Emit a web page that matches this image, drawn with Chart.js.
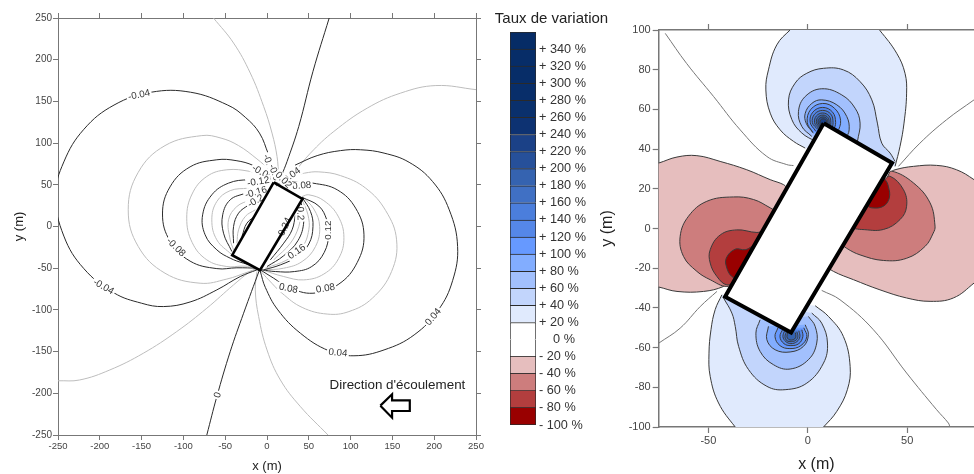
<!DOCTYPE html>
<html><head><meta charset="utf-8">
<style>html,body{margin:0;padding:0;background:#fff;width:974px;height:474px;overflow:hidden}canvas{position:absolute;top:0;filter:blur(0.4px)}</style>
<script src="https://cdn.jsdelivr.net/npm/chart.js@4"></script>
</head><body>
<canvas id="cL" width="490" height="474" style="left:0"></canvas>
<canvas id="cR" width="378" height="474" style="left:596px"></canvas>
<canvas id="cM" width="123" height="474" style="left:490px"></canvas>
<script>
// ---------- left panel data ----------
const leftTicks=[-250,-200,-150,-100,-50,0,50,100,150,200,250];
const zeroTop=[[74.4,250],[55,186],[38,120],[24,78],[17.6,61.6]];
const zeroBot=[[-72,-250],[-60,-204],[-44,-150],[-28,-104],[-9,-52]];
const m02=[[-64,250],[-40,220],[-20,184],[-4,144],[6,112],[12,84],[14,60]];
const p02a=[[251,164],[202,169],[160,160],[120,142],[80,114],[52,88],[32,64],[24,54]];
const m02b=[[-250,-185],[-224,-184],[-188,-172],[-148,-152],[-108,-126],[-72,-98],[-40,-70],[-20,-54],[-10,-50]];
const p02b=[[73,-250],[40,-216],[16,-184],[0,-148],[-10,-108],[-14,-76],[-12,-54]];
const m04=[[2,86],[-9,112],[-26,131],[-47,145.6],[-91.4,161],[-138.6,161],[-183,145.6],[-219,116.6],[-243,77.5],[-253,37],[-243,-11.5],[-219,-50.6],[-183,-79.6],[-150,-92],[-124,-96],[-92,-90.5],[-60,-76],[-32,-60],[-12,-52]];
const p04=[[33.6,73.6],[60,85],[88,91],[112,92],[140,88],[170,77],[198,54],[218,20],[228,-24],[222,-65],[205,-100],[176,-130],[140,-148],[104,-155],[74,-149],[40,-128],[13,-100],[-2,-73],[-8,-54]];
const m06=[[3,68],[-12,81],[-34,97],[-55,106],[-78,109],[-122,97],[-154,65],[-166,20],[-154,-24],[-122,-56],[-80,-68],[-48,-63],[-24,-55],[-10,-50]];
const p06=[[30,60],[45,64],[62,65.5],[88,61],[118,46],[142,19],[155,-16],[149,-54],[126,-86],[98,-102],[72,-105],[42,-97],[18,-80],[2,-64],[-8,-53]];
const m08=[[2,62],[-16,73],[-37,79],[-60,80],[-92,71.5],[-116,47.5],[-125,15],[-116,-17.5],[-92,-41.5],[-60,-50.5],[-36,-49.5],[-10,-50]];
const p08=[[30,54],[55,52],[84,44],[106,22],[116,-10],[108,-43],[86,-69],[55,-80],[26,-73],[8,-62],[-8,-52]];
const m10=[[1,60],[-20,66],[-48,68],[-72,60],[-89.6,39],[-96,10],[-89.6,-19],[-72,-40],[-48,-48],[-30,-47.5],[-12,-48]];
const p10=[[42,36],[50,38],[68,31],[85,12.5],[92,-13],[85.6,-38.5],[68,-57],[44,-64],[20,-60],[-6,-52]];
const m12=[[0,54],[-22,56],[-46,52],[-66,38],[-77,14],[-74,-10],[-60,-28],[-44,-38],[-28,-44],[-12,-48]];
const p12=[[42,35],[62,24.5],[71.5,8],[74,-8],[68.5,-31],[53.5,-48],[33,-54],[10,-54],[-6,-52]];
const m14=[[-22,46],[-44,43],[-60,30],[-66,8],[-60,-16],[-42,-34]];
const p14=[[42,36],[56,21],[63,0],[58,-24],[42,-42],[20,-50],[-4,-52]];
const m16=[[-26,40],[-44,32],[-53,14],[-52,-8],[-42,-30]];
const p16=[[42,35],[52,18],[55,0],[50,-21],[36,-36],[16,-46],[-4,-52]];
const m18=[[-20,32],[-36,24],[-46,8],[-44,-16],[-40,-28]];
const p18=[[42,32],[49,14],[50,-4],[42,-25],[24,-40],[-2,-50]];
const m20=[[-22,26],[-34,16],[-40,0],[-40,-20]];
const p20=[[41,28],[44,6],[37,-17],[20,-35],[0,-48]];
const m22=[[-14,20],[-26,12],[-34,-4],[-36,-20]];
const p22=[[40,16],[38,0],[28,-20],[8,-40]];
const m24=[[-12,14],[-24,4],[-30,-12]];
const p24=[[34,14],[30,-4],[20,-20],[4,-40]];
const blackLines=[zeroTop,zeroBot,m04,p04,m08,p08,m12,p12,m16,p16,m20,p20,m24,p24];
const greyLines=[m02,p02a,m02b,p02b,m06,p06,m10,p10,m14,p14,m18,p18,m22,p22];
const basin=[[8,53],[42.4,33],[-8.4,-52.4],[-41.6,-34.4],[8,53]];
const arrow=[[135.6,-214.8],[149.6,-201.2],[149.6,-208.4],[170.8,-208.4],[170.8,-221.2],[149.6,-221.2],[149.6,-229.2],[135.6,-214.8]];
const labelText=["-0.04","-0.04","-0.08","0","0.08","0.08","0.04","0.04","0.12","0.16","0.2","0.24","0.04","0.08","-0.04","-0.08","-0.12","-0.16","-0.2","-0.02","0.02"];
const labelX=[-153,-195.6,-109,-59,25.6,70,84.8,198.8,73.6,35.6,39.6,21.6,29.6,41.6,2.8,-5.6,-10.4,-13.2,-13.6,9.6,19.6];
const labelY=[157.6,-72.4,-25,-202,-74.4,-74.4,-151.6,-108.4,-4.4,-30.4,15.6,-0.4,61.6,48.8,73.6,64.4,53.6,40.8,30.4,61.6,55.6];
const labelAngle=[-12,30,45,-72,12,-10,5,-50,-90,-35,88,-65,-35,-5,70,30,-10,-15,-30,70,45];

// ---------- legend data ----------
const legendLevels=[-100,-80,-60,-40,-20,0,20,40,60,80,100,120,140,160,180,200,220,240,260,280,300,320,340];
const legendColors=["#990000","#B33E3E","#CD7D7D","#E6BEBE","#FFFFFF","#FFFFFF","#E0EAFD","#C2D5FC","#A2C0FD","#82ADFF","#6699FF","#5587E8","#4B7EDC","#4070C4","#3563B0","#26509A","#1B4187","#0D3272","#0A306C","#082E6A","#072D68","#072D68","#062C66"];
const legendTitle='Taux de variation';

// ---------- right panel data ----------
const rightXTicks=[-50,0,50];
const rightYTicks=[-100,-80,-60,-40,-20,0,20,40,60,80,100];
const topB20=[[-1.3,40.5],[-7.2,43.9],[-13.9,49.7],[-18.9,58.1],[-21.1,69.8],[-19.8,79.9],[-15.6,92.5],[-8.9,100],[-2,106],[29,108],[36.3,99.7],[44.7,88.3],[48.9,78.2],[49.7,68.2],[48.4,53.1],[46.4,41.4],[43.9,31.3]];
const topB40=[[3.7,43.9],[-3,48.1],[-8,54.8],[-9.7,64.8],[-6.4,73.2],[-0.5,78.2],[7.9,80.7],[17.9,79.9],[26.3,74],[32.2,64.8],[35,53.1],[37.2,43],[41.4,38],[43.9,33.8]];
const topB60=[[2,46.4],[-3,51.4],[-4.7,59],[-1.3,66.5],[7,70.4],[17.1,67.3],[23.8,60.6],[26.3,53.1],[25,44]];
const topB80=[[2.8,48],[-0.8,53],[-1.3,58],[2,63],[7,64.8],[14.6,62.3],[19.6,56.4],[20.8,49.7],[19,45]];
const topB100=[[2.5,48.5],[-0.3,53.5],[1.5,60],[7.5,63],[13.5,60.5],[16.5,54.5],[15,48]];
const topB120=[[4,49],[1.2,53.5],[2.5,58.6],[7.5,61],[12.5,58.6],[14,53.4],[13,49.5]];
const topB140=[[5,50],[2.3,53.3],[3.4,57.6],[7.5,59.5],[11.6,57.6],[12.7,53.3],[12,50]];
const topB160=[[5.4,50.5],[3.4,53.3],[4.3,56.7],[7.5,58.2],[10.7,56.7],[11.6,53.3],[11,50.5]];
const topB180=[[5.9,51],[4.4,53.2],[5,55.9],[7.6,57.1],[10.1,55.9],[10.8,53.2],[10.5,51]];
const topB200=[[6.3,51.5],[5.2,53.3],[5.7,55.3],[7.7,56.2],[9.6,55.3],[10.1,53.3],[9.9,51.5]];
const topB220=[[6.8,52],[6.1,53.4],[6.5,54.7],[7.8,55.3],[9.1,54.7],[9.5,53.4],[9.3,52]];
const botB20=[[-43.2,-33.4],[-46.6,-40.9],[-48.7,-51],[-49.7,-62.8],[-49.1,-74.5],[-44.9,-87.9],[-36.5,-100],[-30,-107],[1,-107],[7.9,-100],[14.6,-92.1],[19.9,-81.2],[21.3,-69.5],[17.9,-54.4],[10.4,-44.3],[3.7,-38.9]];
const botB40=[[-42.4,-35],[-38.2,-42.6],[-36.5,-49.3],[-34.8,-59.4],[-29.8,-71.1],[-20.6,-79.5],[-11.4,-81.2],[-0.5,-77.9],[7.9,-67.8],[9.9,-57.7],[7,-47.7],[2,-42.6]];
const botB60=[[-24,-46],[-26.1,-52.7],[-24,-61.9],[-17.3,-68.6],[-8.9,-70.8],[0.3,-66.1],[4.5,-57.7],[3.7,-49.3],[0.3,-44.3]];
const botB80=[[-19.8,-49.3],[-20.6,-56],[-16.4,-61.1],[-8.9,-62.2],[-2.2,-59.4],[0.3,-53.5],[-1.3,-48.5]];
const botB100=[[-15,-50],[-16.5,-54.5],[-14,-59],[-9,-60.5],[-3.5,-59],[-0.5,-54.5],[-2,-50]];
const botB120=[[-12.5,-50.5],[-14,-54.5],[-12,-58],[-8.5,-59],[-4.5,-58],[-2.5,-54.5],[-3,-51]];
const botB140=[[-11.5,-51],[-12.5,-54.5],[-11,-57],[-8.5,-58],[-5.5,-57],[-4,-54.5],[-4.5,-51.5]];
const botB160=[[-10.5,-51.5],[-11.5,-54.5],[-10.5,-56.5],[-8.3,-57],[-6,-56.3],[-5,-54.5],[-5.5,-52]];
const botB180=[[-10,-52],[-10.5,-54.5],[-9.7,-55.8],[-8.2,-56.2],[-6.6,-55.6],[-6,-54.3],[-6.3,-52.5]];
const leftR20=[[-10,20],[-12.2,22.1],[-18.9,24.6],[-30.7,29.6],[-44.1,33.8],[-55.8,36.7],[-65.8,36],[-74.9,33],[-82,31],[-82,-28],[-74.9,-29.5],[-65.8,-31.7],[-52.4,-31.7],[-42.4,-29.2],[-36,-25]];
const rightR20=[[41,28],[43.9,29.6],[53.1,31.3],[64.8,31.8],[74.8,29.6],[83.6,24.6],[92,18],[92,-20],[83.6,-27.5],[73.2,-35],[61.5,-36.7],[49.7,-35],[36.3,-30.9],[23,-25.8],[12.9,-21.6],[8,-18]];
const leftR40=[[-15,8],[-18.9,10.4],[-27.3,14.6],[-37.4,15.9],[-50.8,13.7],[-60,6.2],[-64.2,-3.9],[-62.5,-14.1],[-55.8,-21.6],[-49.1,-25.8],[-40.7,-29.2],[-36,-26]];
const rightR40=[[40,26],[42.2,28.9],[53.1,23],[61.5,12.9],[64,1.2],[63.1,-2.3],[59,-9],[49.7,-15],[38,-16.1],[26.3,-13.3],[19.6,-10],[16,-7]];
const leftR60=[[-22,-1],[-25.6,-2],[-35.7,-0.7],[-44,-3.2],[-49.1,-10.7],[-49.1,-17.4],[-45.7,-24.2],[-40.7,-28.4],[-36,-26]];
const rightR60=[[38,24],[41.4,26.3],[48.1,19.6],[49.7,11.2],[46.4,4.5],[38,-0.5],[27.1,-0.5],[23,0]];
const leftR80=[[-28,-9],[-31.5,-10.7],[-36.5,-10.4],[-41,-14.9],[-40.7,-20],[-38.2,-24.2],[-34,-26]];
const rightR80=[[36,26],[38.9,24.6],[40.5,21.3],[41,15.4],[38,11.2],[32.2,10.4],[29,12]];
const zeroTL=[[-71.7,98.3],[-61,83.2],[-47.4,66.5],[-34,49.7],[-20.6,36.3],[-10.6,32.2],[-7.2,31.7]];
const zeroTR=[[83.6,64.8],[69.8,54.8],[56.4,43],[45.6,31.3]];
const zeroBL=[[-74.9,-57.7],[-64.2,-50.2],[-54.1,-39.3],[-45.7,-31.7]];
const zeroBR=[[7,-31.2],[16.2,-35.9],[33,-51],[49.7,-72.8],[64.8,-91.3],[70.7,-98],[71.5,-100]];
const filledRegions=[
 [topB20,"#E0EAFD"],[botB20,"#E0EAFD"],[leftR20,"#E6BEBE"],[rightR20,"#E6BEBE"],
 [leftR40,"#CD7D7D"],[rightR40,"#CD7D7D"],[leftR60,"#B33E3E"],[rightR60,"#B33E3E"],[leftR80,"#990000"],[rightR80,"#990000"],
 [topB40,"#C2D5FC"],[botB40,"#C2D5FC"],[topB60,"#A2C0FD"],[botB60,"#A2C0FD"],[topB80,"#82ADFF"],[botB80,"#82ADFF"],
 [topB100,"#6699FF"],[botB100,"#6699FF"],[topB120,"#5587E8"],[botB120,"#5587E8"],[topB140,"#4B7EDC"],[botB140,"#4B7EDC"],
 [topB160,"#4070C4"],[botB160,"#4070C4"],[topB180,"#3563B0"],[botB180,"#3563B0"],[topB200,"#26509A"],[topB220,"#1B4187"]];
const zeroLines=[zeroTL,zeroTR,zeroBL,zeroBR];

// ---------- helpers ----------
Chart.defaults.font.family='"Liberation Sans",Arial,sans-serif';
const xy=a=>a.map(p=>({x:p[0],y:p[1]}));
const lineDs=(a,color,w,extra)=>Object.assign({data:xy(a),showLine:true,pointRadius:0,borderColor:color,borderWidth:w,tension:0.4,capBezierPoints:false,fill:false},extra||{});
const hiddenTicks={display:false};
function axis(pos,min,max,ticks,size,extra){
  return Object.assign({type:'linear',position:pos,min,max,
    afterBuildTicks:s=>{s.ticks=ticks.map(v=>({value:v}))},
    afterFit:s=>{if(pos==='left'||pos==='right')s.width=size;else s.height=size}},extra);
}
const labelPlugin={id:'contourLabels',beforeDatasetDraw(chart,args){
  if(args.index!==0)return;
  const c=chart.ctx,sx=chart.scales.x,sy=chart.scales.y;
  c.save();
  c.font='9.8px "Liberation Sans",Arial,sans-serif';c.textAlign='center';c.textBaseline='middle';
  labelText.forEach((t,i)=>{
    c.save();c.translate(sx.getPixelForValue(labelX[i]),sy.getPixelForValue(labelY[i]));c.rotate(labelAngle[i]*Math.PI/180);
    const w=c.measureText(t).width;
    c.fillStyle='#fff';c.fillRect(-w/2-1.5,-5,w+3,10);
    c.fillStyle='#333';c.fillText(t,0,0);
    c.restore();
  });
  c.restore();
}};
const flowLabel={text:"Direction d'écoulement",x:156,y:-190};
const flowPlugin={id:'flowLabel',afterDatasetsDraw(chart){
  const c=chart.ctx;c.save();c.font='13.4px "Liberation Sans",Arial,sans-serif';c.fillStyle='#222';c.textAlign='center';c.textBaseline='middle';
  c.fillText(flowLabel.text,chart.scales.x.getPixelForValue(flowLabel.x),chart.scales.y.getPixelForValue(flowLabel.y));c.restore();
}};
const legendTitlePlugin={id:'legendTitle',afterDraw(chart){
  const c=chart.ctx;c.save();c.font='15px "Liberation Sans",Arial,sans-serif';c.fillStyle='#222';c.textAlign='center';c.textBaseline='middle';
  c.fillText(legendTitle,61.5,19);c.restore();
}};
const axisCol='#777',tickCol='#444';

// ---------- left chart ----------
const leftDs=[];
greyLines.forEach(a=>leftDs.push(lineDs(a,'#BDBDBD',1)));
blackLines.forEach(a=>leftDs.push(lineDs(a,'#2A2A2A',1)));
leftDs.push(lineDs(arrow,'#000',2.2,{tension:0,fill:'shape',backgroundColor:'#fff',borderJoinStyle:'miter'}));
leftDs.push(lineDs(basin,'#000',2.6,{tension:0,fill:'shape',backgroundColor:'#fff',borderJoinStyle:'miter'}));
const leftGrid={drawOnChartArea:false,drawTicks:true,tickLength:5,tickColor:axisCol,tickWidth:1};
new Chart(document.getElementById('cL'),{type:'scatter',plugins:[labelPlugin,flowPlugin],
 data:{datasets:leftDs.reverse()},
 options:{responsive:false,animation:false,events:[],layout:{autoPadding:false},devicePixelRatio:1,
  plugins:{legend:{display:false},tooltip:{enabled:false},title:{display:false}},
  scales:{
   x:axis('bottom',-250,250,leftTicks,39,{grid:leftGrid,border:{color:axisCol,width:1},ticks:{color:tickCol,font:{size:9.5},padding:1,maxRotation:0,autoSkip:false},title:{display:true,text:'x (m)',color:'#222',font:{size:13},padding:{top:0,bottom:0}}}),
   x2:axis('top',-250,250,leftTicks,18,{grid:leftGrid,border:{color:axisCol,width:1},ticks:hiddenTicks}),
   y:axis('left',-250,250,leftTicks,58,{grid:leftGrid,border:{color:axisCol,width:1},ticks:{color:tickCol,font:{size:10},padding:1,autoSkip:false},title:{display:true,text:'y (m)',color:'#222',font:{size:13},padding:{top:12,bottom:0}}}),
   y2:axis('right',-250,250,leftTicks,14,{grid:leftGrid,border:{color:axisCol,width:1},ticks:hiddenTicks})
  }}});

// ---------- legend bar ----------
new Chart(document.getElementById('cM'),{type:'bar',plugins:[legendTitlePlugin],
 data:{labels:[legendTitle],datasets:legendLevels.map((v,i)=>({data:[[v,v+20]],backgroundColor:legendColors[i],borderColor:'#2A2A2A',borderWidth:1,barPercentage:1,categoryPercentage:1}))},
 options:{responsive:false,animation:false,events:[],devicePixelRatio:1,layout:{autoPadding:false,padding:{left:20,top:32,bottom:49}},
  plugins:{legend:{display:false},tooltip:{enabled:false},title:{display:false}},
  scales:{
   x:{display:false,stacked:true},
   y:{type:'linear',position:'right',min:-100,max:360,
      afterBuildTicks:s=>{s.ticks=legendLevels.map(v=>({value:v}))},
      afterFit:s=>{s.width=77},
      grid:{display:false,drawTicks:false,tickLength:0},border:{display:false},
      ticks:{color:'#333',font:{size:12.7},padding:3,autoSkip:false,
        callback:v=>v>0?'+ '+v+' %':(v===0?'    0 %':'- '+(-v)+' %')}}
  }}});

// ---------- right chart ----------
const rightDs=[];
filledRegions.forEach(r=>rightDs.push(lineDs(r[0],'#3A3A3A',1,{fill:'shape',backgroundColor:r[1]})));
zeroLines.forEach(a=>rightDs.push(lineDs(a,'#777',1)));
rightDs.push(lineDs(basin,'#000',4,{tension:0,fill:'shape',backgroundColor:'#fff',borderJoinStyle:'miter'}));
const rightGrid={drawOnChartArea:false,drawTicks:true,tickLength:6,tickColor:axisCol,tickWidth:1.2};
new Chart(document.getElementById('cR'),{type:'scatter',
 data:{datasets:rightDs.reverse()},
 options:{responsive:false,animation:false,events:[],layout:{autoPadding:false},devicePixelRatio:1,
  plugins:{legend:{display:false},tooltip:{enabled:false},title:{display:false}},
  scales:{
   x:axis('bottom',-75,83.6,rightXTicks,47,{grid:rightGrid,border:{color:axisCol,width:1.5},ticks:{color:tickCol,font:{size:11},padding:1,maxRotation:0,autoSkip:false},title:{display:true,text:'x (m)',color:'#222',font:{size:16},padding:{top:0,bottom:0}}}),
   x2:axis('top',-75,83.6,rightXTicks,30,{grid:rightGrid,border:{color:axisCol,width:1.5},ticks:hiddenTicks}),
   y:axis('left',-100,100,rightYTicks,62.7,{grid:rightGrid,border:{color:axisCol,width:1.5},ticks:{color:tickCol,font:{size:11},padding:2,autoSkip:false},title:{display:true,text:'y (m)',color:'#222',font:{size:16},padding:{top:2.4,bottom:0}}})
  }}});
</script>
</body></html>
